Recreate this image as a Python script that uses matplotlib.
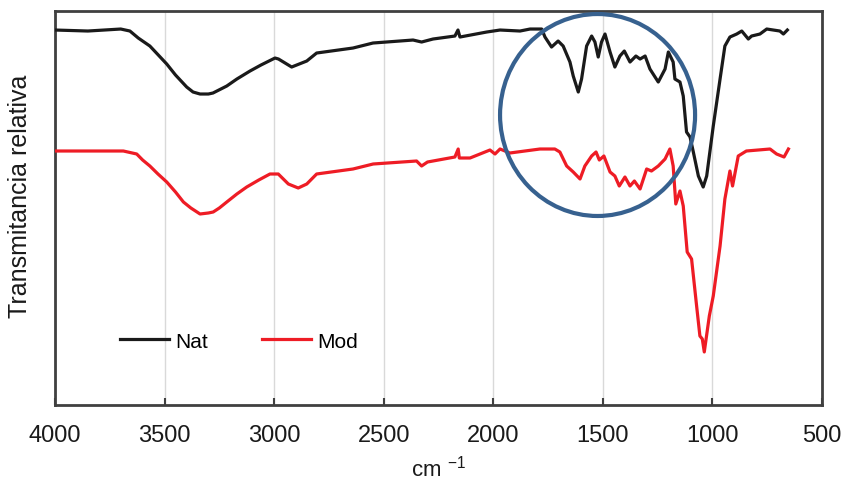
import numpy as np
import matplotlib
matplotlib.use('Agg')
from matplotlib import pyplot as plt
from matplotlib.patches import Ellipse

plt.rcParams['font.family'] = ['Liberation Sans', 'DejaVu Sans']

# Nat spectrum (wavenumber cm-1, relative transmittance)
nat_w = [4000, 3850, 3700, 3658, 3620, 3567, 3490, 3450, 3399, 3370, 3338, 3300, 3279,
         3216, 3170, 3110, 3060, 2996, 2980, 2920, 2851, 2806, 2640, 2549, 2366, 2327,
         2275, 2175, 2161, 2152, 2030, 1969, 1878, 1832, 1779, 1764, 1734, 1704, 1681,
         1650, 1635, 1612, 1597, 1574, 1551, 1536, 1521, 1506, 1490, 1467, 1445, 1422,
         1402, 1376, 1349, 1330, 1307, 1285, 1247, 1216, 1201, 1179, 1171, 1148, 1133,
         1118, 1102, 1087, 1064, 1042, 1026, 996, 965, 943, 920, 889, 866, 836, 821,
         783, 752, 692, 676, 658]
nat_t = [375, 374, 376, 374, 367, 359, 341, 330, 318, 313, 311, 311, 312,
         319, 326, 334, 340, 347, 346, 338, 344, 352, 357, 362, 365, 363,
         366, 369, 375, 368, 373, 375, 374, 376, 376, 368, 358, 364, 359,
         343, 329, 313, 326, 359, 369, 363, 348, 363, 371, 353, 338, 349,
         354, 343, 349, 346, 349, 336, 323, 336, 353, 343, 326, 323, 309,
         273, 268, 253, 229, 218, 229, 279, 326, 359, 368, 371, 374, 366, 369,
         371, 376, 374, 371, 375]

# Mod spectrum
mod_w = [4000, 3688, 3627, 3600, 3567, 3530, 3490, 3450, 3414, 3380, 3338, 3300, 3278,
         3250, 3216, 3170, 3125, 3070, 3019, 2981, 2935, 2890, 2851, 2806, 2640, 2548,
         2350, 2327, 2300, 2175, 2160, 2155, 2106, 2015, 1992, 1969, 1924, 1787, 1719,
         1696, 1665, 1635, 1604, 1582, 1551, 1531, 1516, 1495, 1467, 1445, 1425, 1399,
         1376, 1356, 1330, 1300, 1278, 1247, 1216, 1194, 1179, 1167, 1148, 1133, 1115,
         1095, 1072, 1057, 1046, 1037, 1014, 996, 965, 943, 920, 908, 882, 845, 737,
         707, 673, 653]
mod_t = [254, 254, 251, 245, 239, 231, 223, 213, 203, 197, 191, 192, 193,
         197, 203, 211, 218, 225, 231, 231, 221, 217, 221, 231, 236, 241,
         244, 239, 243, 248, 256, 247, 247, 255, 251, 256, 252, 256, 256,
         253, 239, 233, 226, 239, 249, 253, 245, 249, 233, 229, 219, 228,
         219, 224, 216, 236, 234, 239, 246, 256, 239, 201, 214, 199, 153,
         146, 99, 69, 66, 53, 89, 109, 159, 206, 234, 219, 249, 254, 256,
         251, 248, 256]

xticks = [4000, 3500, 3000, 2500, 2000, 1500, 1000, 500]

fig = plt.figure(figsize=(8.42, 4.81), dpi=100)
ax = fig.add_axes([0.0653, 0.156, 0.9109, 0.819])

ax.plot(nat_w, nat_t, color='#1a1a1a', lw=2.3, label='Nat', zorder=3)
ax.plot(mod_w, mod_t, color='#ee1c25', lw=2.3, label='Mod', zorder=3)

# highlight circle
ax.add_patch(Ellipse((1524, 290), 890, 202, fill=False, edgecolor='#37618f', lw=3, zorder=4))

ax.set_xlim(4000, 500)
ax.set_ylim(0, 394)
ax.set_xticks(xticks)
ax.set_yticks([])
ax.grid(axis='x', color='#d9d9d9', lw=1)
ax.set_axisbelow(True)
ax.tick_params(axis='x', direction='in', length=5, width=1.5, color='#404040',
               labelsize=17, pad=14, labelcolor='#1a1a1a')
for s in ax.spines.values():
    s.set_color('#404040')
    s.set_linewidth(2)

ax.set_xlabel('cm $^{\\mathregular{-1}}$', fontsize=16, labelpad=6, color='#1a1a1a')
ax.set_ylabel('Transmitancia relativa', fontsize=18, color='#1a1a1a')
ax.yaxis.set_label_coords(-0.030, 0.533)

ax.legend(loc='center left', bbox_to_anchor=(0.085, 0.162), ncol=2, frameon=False,
          fontsize=15, handlelength=2.35, handletextpad=0.3, columnspacing=2.6,
          borderpad=0, borderaxespad=0)

plt.savefig('out.png', dpi=100)
